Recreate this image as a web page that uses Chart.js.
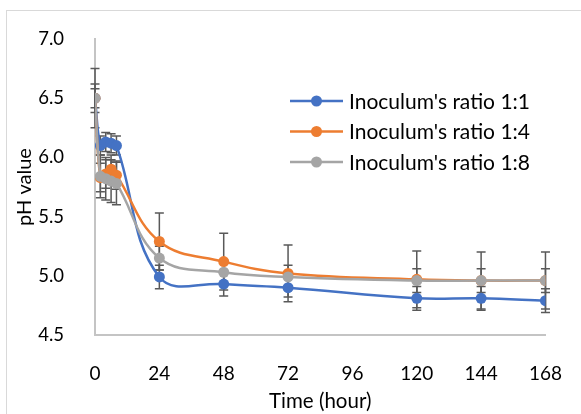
<!DOCTYPE html>
<html>
<head>
<meta charset="utf-8">
<script src="https://cdn.jsdelivr.net/npm/chart.js@4"></script>
<style>
  html, body { margin: 0; padding: 0; background: #fff; }
  #wrap { width: 581px; height: 414px; }
</style>
</head>
<body>
<div id="wrap"><canvas id="myChart" width="581" height="414"></canvas></div>
<script>
// time in hours
const hours = [0, 2, 4, 6, 8, 24, 48, 72, 120, 144, 168];

// pH values
const ratio11 = [6.50, 6.10, 6.13, 6.12, 6.10, 4.99, 4.93, 4.90, 4.81, 4.81, 4.79];
const ratio14 = [6.50, 5.83, 5.86, 5.90, 5.85, 5.29, 5.12, 5.02, 4.97, 4.96, 4.96];
const ratio18 = [6.50, 5.84, 5.82, 5.80, 5.78, 5.15, 5.03, 4.99, 4.96, 4.96, 4.96];

// error bars (+/-)
const err11 = [0.08, 0.08, 0.08, 0.08, 0.08, 0.10, 0.10, 0.08, 0.10, 0.10, 0.10];
const err14 = [0.25, 0.12, 0.12, 0.12, 0.12, 0.24, 0.24, 0.24, 0.24, 0.24, 0.24];
const err18 = [0.12, 0.18, 0.18, 0.18, 0.18, 0.10, 0.10, 0.10, 0.10, 0.10, 0.10];

const labels = ["Inoculum's ratio 1:1", "Inoculum's ratio 1:4", "Inoculum's ratio 1:8"];
const xTicks = [0, 24, 48, 72, 96, 120, 144, 168];

const FONT = 'Lato, "Open Sans", sans-serif';

function pts(vals) {
  return hours.map((h, i) => ({ x: h, y: vals[i] }));
}

// error bars under the markers
const errorBars = {
  id: 'errorBars',
  beforeDatasetsDraw(chart) {
    const ctx = chart.ctx;
    const xs = chart.scales.x, ys = chart.scales.y;
    ctx.save();
    ctx.strokeStyle = '#595959';
    ctx.lineWidth = 1.5;
    chart.data.datasets.forEach(ds => {
      ds.data.forEach((p, i) => {
        const e = ds.errors[i];
        const x = xs.getPixelForValue(p.x);
        const yt = ys.getPixelForValue(p.y + e);
        const yb = ys.getPixelForValue(p.y - e);
        ctx.beginPath();
        ctx.moveTo(x, yt); ctx.lineTo(x, yb);
        ctx.moveTo(x - 4.5, yt); ctx.lineTo(x + 4.5, yt);
        ctx.moveTo(x - 4.5, yb); ctx.lineTo(x + 4.5, yb);
        ctx.stroke();
      });
    });
    ctx.restore();
  }
};

// outer frame + legend inside plot
const frameLegend = {
  id: 'frameLegend',
  beforeDraw(chart) {
    const ctx = chart.ctx;
    ctx.save();
    ctx.strokeStyle = '#d9d9d9';
    ctx.lineWidth = 1;
    ctx.strokeRect(6.5, 10.5, 700, 500);
    ctx.restore();
  },
  afterDraw(chart) {
    const ctx = chart.ctx;
    ctx.save();
    ctx.font = '21px ' + FONT;
    ctx.textBaseline = 'middle';
    chart.data.datasets.forEach((ds, i) => {
      const y = 101 + i * 30.5;
      ctx.strokeStyle = ds.borderColor;
      ctx.lineWidth = 2.5;
      ctx.beginPath();
      ctx.moveTo(290, y); ctx.lineTo(343, y);
      ctx.stroke();
      ctx.fillStyle = ds.backgroundColor;
      ctx.beginPath();
      ctx.arc(316.5, y, 5.5, 0, Math.PI * 2);
      ctx.fill();
      ctx.fillStyle = '#000';
      ctx.fillText(ds.label, 349, y + 1);
    });
    ctx.restore();
  }
};

const ctx = document.getElementById('myChart');

new Chart(ctx, {
  type: 'line',
  data: {
    datasets: [
      { label: labels[0], data: pts(ratio11), errors: err11, borderColor: '#4472C4', backgroundColor: '#4472C4', order: 3 },
      { label: labels[1], data: pts(ratio14), errors: err14, borderColor: '#ED7D31', backgroundColor: '#ED7D31', order: 2 },
      { label: labels[2], data: pts(ratio18), errors: err18, borderColor: '#A5A5A5', backgroundColor: '#A5A5A5', order: 1 }
    ]
  },
  options: {
    responsive: false,
    animation: false,
    layout: { padding: { top: 39, right: 28, left: 0, bottom: 0 } },
    elements: {
      line: { borderWidth: 2.5, tension: 0.4 },
      point: { radius: 5.5, borderWidth: 0, hoverRadius: 5.5 }
    },
    scales: {
      x: {
        type: 'linear',
        min: 0,
        max: 168,
        afterBuildTicks: s => { s.ticks = xTicks.map(v => ({ value: v })); },
        afterFit: s => { s.height = 79; },
        grid: { display: false },
        border: { display: true, color: '#c4c4c4', width: 2 },
        ticks: { color: '#000', padding: 19, font: { family: FONT, size: 19 } },
        title: { display: true, text: 'Time (hour)', color: '#000', font: { family: FONT, size: 20.5 }, padding: { top: 0, bottom: 0 } }
      },
      y: {
        min: 4.5,
        max: 7.0,
        ticks: { stepSize: 0.5, color: '#000', padding: 23, font: { family: FONT, size: 18.5 }, callback: v => v.toFixed(1) },
        afterFit: s => { s.width = 95; },
        grid: { display: false },
        border: { display: true, color: '#c4c4c4', width: 2 },
        title: { display: true, text: 'pH value', color: '#000', font: { family: FONT, size: 20 }, padding: { top: 13, bottom: 0 } }
      }
    },
    plugins: {
      legend: { display: false },
      tooltip: { enabled: false }
    }
  },
  plugins: [errorBars, frameLegend]
});
</script>
</body>
</html>
